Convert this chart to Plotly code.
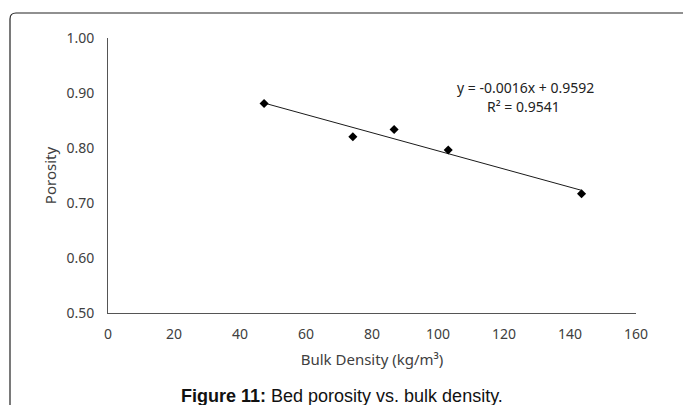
import numpy as np
import plotly.graph_objects as go

bulk_density = [47.3, 74.2, 86.7, 103.1, 143.5]
porosity = [0.881, 0.8205, 0.8337, 0.7964, 0.7169]
x_ticks = [0, 20, 40, 60, 80, 100, 120, 140, 160]
y_ticks = [0.50, 0.60, 0.70, 0.80, 0.90, 1.00]
eq_text = "y = -0.0016x + 0.9592"
r2_text = "R² = 0.9541"

slope, intercept = np.polyfit(bulk_density, porosity, 1)
trend_x = [min(bulk_density), max(bulk_density)]
trend_y = [slope * v + intercept for v in trend_x]

W, H = 683, 405
L, R, T, B = 108, 47, 38, 92
pw, ph = W - L - R, H - T - B

def px(x):
    return (x - L) / pw

def py(y):
    return (H - B - y) / ph

fig = go.Figure()
fig.add_trace(go.Scatter(x=trend_x, y=trend_y, mode="lines",
                         line=dict(color="#1a1a1a", width=1), showlegend=False, hoverinfo="skip"))
fig.add_trace(go.Scatter(x=bulk_density, y=porosity, mode="markers",
                         marker=dict(symbol="diamond", size=7, color="black"), showlegend=False))

tick_font = dict(family="Noto Sans, Open Sans, sans-serif", size=14, color="#404040")
title_font = dict(family="Noto Sans, Open Sans, sans-serif", size=15, color="#404040")
fig.update_xaxes(range=[0, 160], tickvals=x_ticks, showgrid=False, zeroline=False,
                 showline=True, linecolor="#555555", linewidth=1, ticks="",
                 tickfont=tick_font, ticklabelstandoff=8,
                 title=dict(text="Bulk Density (kg/m³)", font=title_font, standoff=12))
fig.update_yaxes(range=[0.5, 1.0], tickvals=y_ticks, tickformat=".2f", showgrid=False, zeroline=False,
                 showline=True, linecolor="#555555", linewidth=1, ticks="",
                 tickfont=tick_font, ticklabelstandoff=10,
                 title=dict(text="Porosity", font=title_font, standoff=6))

# rounded frame (left/top edges visible, continues past right/bottom)
x0, y0, rr = 10, 13, 6
x1, y1 = W + 20, H + 20
path = (f"M {px(x0)},{py(y1)} L {px(x0)},{py(y0 + rr)} "
        f"Q {px(x0)},{py(y0)} {px(x0 + rr)},{py(y0)} "
        f"L {px(x1)},{py(y0)}")
fig.add_shape(type="path", path=path, xref="paper", yref="paper",
              line=dict(color="#222222", width=1.2))

fig.add_annotation(x=px(525), y=py(88), xref="paper", yref="paper", text=eq_text,
                   xanchor="center", yanchor="middle", showarrow=False,
                   font=dict(family="Noto Sans, sans-serif", size=14, color="#222222"))
fig.add_annotation(x=px(523), y=py(106), xref="paper", yref="paper", text=r2_text,
                   xanchor="center", yanchor="middle", showarrow=False,
                   font=dict(family="Noto Sans, sans-serif", size=14, color="#222222"))
fig.add_annotation(x=px(342), y=py(396), xref="paper", yref="paper",
                   text="<b>Figure 11:</b> Bed porosity vs. bulk density.",
                   xanchor="center", yanchor="middle", showarrow=False,
                   font=dict(family="Liberation Sans Narrow, Liberation Sans, Arial, sans-serif", size=18, color="#111111"))

fig.update_layout(width=W, height=H, margin=dict(l=L, r=R, t=T, b=B),
                  paper_bgcolor="white", plot_bgcolor="white")

fig.write_html("out.html", config={"displayModeBar": False},
               post_script="document.body.style.margin='0';")
